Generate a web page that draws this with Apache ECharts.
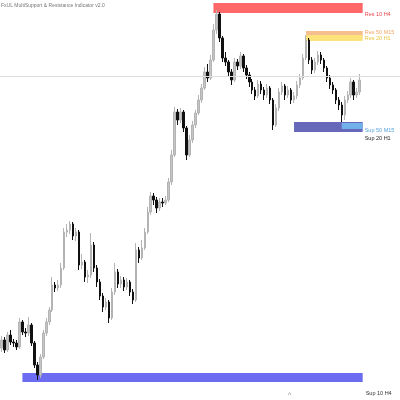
<!DOCTYPE html>
<html>
<head>
<meta charset="utf-8">
<style>
  html, body { margin: 0; padding: 0; background: #fff; }
  #chart { width: 400px; height: 400px; }
</style>
<script src="https://cdn.jsdelivr.net/npm/echarts@6/dist/echarts.min.js"></script>
</head>
<body>
<div id="chart"></div>
<script>
// candle prices (arbitrary units)
const opens = [52,60,50,65,58,57,53,78,68,67,75,57,35,25,43,67,78,90,115,112,115,132,168,170,176,164,168,135,138,123,125,155,132,118,104,93,98,82,108,128,116,120,113,118,108,100,150,142,152,168,188,204,200,192,198,197,200,218,245,288,280,288,272,245,260,275,287,300,312,328,322,340,370,386,362,342,338,328,320,338,334,344,332,325,318,310,304,316,310,305,312,300,275,292,308,314,305,310,300,304,315,322,342,360,340,330,338,345,340,332,322,315,310,300,295,285,300,305,318,305,308];
const closes = [60,50,65,58,57,53,78,68,67,75,57,35,25,43,67,78,90,115,112,115,132,168,170,176,164,168,135,138,123,125,155,132,118,104,93,98,82,108,128,116,120,113,118,108,100,150,142,152,168,188,204,200,192,198,197,200,218,245,288,280,288,272,245,260,275,287,300,312,328,322,340,370,386,362,342,338,328,320,338,334,344,332,325,318,310,304,316,310,305,312,300,275,292,308,314,305,310,300,304,315,322,342,360,340,330,338,345,340,332,322,315,310,300,295,285,300,305,318,305,308,320];
const lows = [48,47,48,55,53,50,51,65,63,64,54,32,20,22,41,64,75,88,108,109,112,130,163,166,160,159,130,131,118,117,122,128,113,100,88,90,77,80,105,112,112,109,110,104,96,98,137,140,150,166,185,195,187,189,193,195,198,215,243,275,277,268,240,243,257,272,285,297,310,318,320,338,366,358,338,334,323,315,318,330,331,328,321,313,306,300,302,306,300,302,296,270,273,289,305,300,302,296,297,301,312,320,340,336,326,327,335,336,328,318,311,306,296,290,278,280,297,302,300,302,305];
const highs = [64,63,68,70,61,60,82,80,72,83,77,59,38,46,70,82,93,123,118,120,137,172,176,179,178,172,170,146,140,130,167,158,135,121,107,102,100,112,137,131,124,123,122,120,111,157,153,160,172,193,208,207,203,202,202,204,222,250,293,291,292,290,274,265,279,290,305,316,333,336,345,376,390,388,364,348,340,331,342,341,348,346,335,328,321,313,320,319,313,316,314,302,296,312,318,316,314,312,308,319,326,346,365,362,343,342,349,348,342,334,325,318,312,303,298,304,309,322,320,312,326];

// x slots (candles plus empty room on the right)
const slotCount = 134;
const categories = Array.from({length: slotCount}, (_, i) => String(i + 1));

// support / resistance zones
const zoneNames = ['Res 10 H4', 'Res 50 M15', 'Res 20 H1', 'Sup 20 H1', 'Sup 50 M15', 'Sup 10 H4'];
const zoneStart = [71, 102, 102, 98, 114, 7];
const zoneEnd = [121, 121, 121, 121, 121, 121];
const zoneLow = [387, 364, 359, 268, 271, 18];
const zoneHigh = [397, 369, 365, 278, 277, 27];
const zoneFill = ['#ff6868', '#f7bf8e', '#fde37c', '#6868bb', '#72b2ea', '#6c6cf2'];
const zoneText = ['#e5484d', '#f0a868', '#e8c53c', '#222', '#5aa6de', '#333'];
const zoneLabelPos = [[2, 1], [2, 1], [2, 0], [2, 6], [2, 1], [3, 11]];
const zoneLabelAnchor = [['100%','100%'], ['100%', 0], ['100%','50%'], ['100%','100%'], ['100%','100%'], ['100%','100%']];

const lastPrice = 324;

const candles = opens.map((o, i) => [o, closes[i], lows[i], highs[i]]);

const zones = zoneNames.map((name, i) => [
  {
    name: name,
    xAxis: zoneStart[i],
    yAxis: zoneLow[i],
    itemStyle: { color: zoneFill[i], opacity: 1 },
    label: {
      show: true,
      position: zoneLabelAnchor[i],
      offset: zoneLabelPos[i],
      align: 'left',
      verticalAlign: 'middle',
      color: zoneText[i],
      fontSize: 5.5,
      fontFamily: 'Liberation Sans'
    }
  },
  { xAxis: zoneEnd[i], yAxis: zoneHigh[i] }
]);

const chart = echarts.init(document.getElementById('chart'));
chart.setOption({
  animation: false,
  backgroundColor: '#fff',
  title: {
    text: 'FxUL MultiSupport & Resistance Indicator v2.0',
    left: 1,
    top: 3,
    padding: 0,
    textStyle: { fontSize: 5, fontWeight: 'normal', color: '#777', fontFamily: 'Liberation Sans' }
  },
  grid: { left: 0, right: 0, top: 0, bottom: 0 },
  xAxis: {
    type: 'category',
    data: categories,
    boundaryGap: true,
    show: false
  },
  yAxis: {
    type: 'value',
    min: 0,
    max: 400,
    show: false,
    splitLine: { show: false }
  },
  graphic: [{
    type: 'text',
    left: 288,
    top: 392,
    style: { text: '^', fill: '#888', fontSize: 7, fontFamily: 'Liberation Sans' }
  }],
  series: [{
    type: 'candlestick',
    data: candles,
    barWidth: 2,
    itemStyle: {
      color: '#c4c4c4',
      borderColor: '#b4b4b4',
      color0: '#111111',
      borderColor0: '#111111',
      borderWidth: 1
    },
    markArea: {
      silent: true,
      data: zones
    },
    markLine: {
      silent: true,
      symbol: 'none',
      label: { show: false },
      lineStyle: { color: '#e2ddd8', width: 1, type: 'solid' },
      data: [{ yAxis: lastPrice }]
    }
  }]
});
</script>
</body>
</html>
